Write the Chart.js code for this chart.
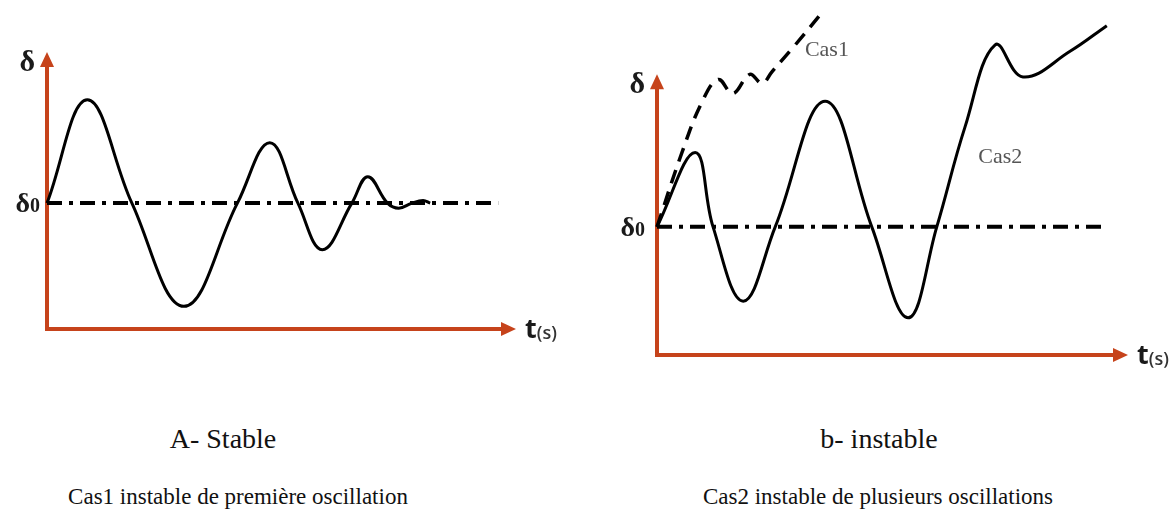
<!DOCTYPE html>
<html>
<head>
<meta charset="utf-8">
<script src="https://cdn.jsdelivr.net/npm/chart.js@4/dist/chart.umd.min.js"></script>
<style>
  body { margin: 0; background: #fff; width: 1176px; height: 510px; position: relative; overflow: hidden; }
  canvas { position: absolute; top: 0; }
  .cap { position: absolute; font-family: "Liberation Serif", "Times New Roman", "DejaVu Serif", serif; color: #111; line-height: 1; white-space: nowrap; transform: translateX(-50%); }
</style>
</head>
<body>
<canvas id="stable" width="588" height="380" style="left:0"></canvas>
<canvas id="unstable" width="588" height="380" style="left:588px"></canvas>

<div class="cap" style="left:223px; top:425px; font-size:28px">A- Stable</div>
<div class="cap" style="left:238px; top:485px; font-size:23px">Cas1 instable de première oscillation</div>
<div class="cap" style="left:879px; top:425px; font-size:28px">b- instable</div>
<div class="cap" style="left:878px; top:485px; font-size:23px">Cas2 instable de plusieurs oscillations</div>

<script>
// A- stable : damped oscillation around delta0 (crossings and extremes)
const stableT     = [0, 0.86, 1.81, 2.92, 4.06, 4.75, 5.35, 5.87, 6.50, 6.84, 7.26, 7.50, 7.78, 8.02, 8.17];
const stableDelta = [1.0, 1.82, 1.0, 0.18, 1.0, 1.48, 1.0, 0.63, 1.0, 1.21, 1.0, 0.96, 1.0, 1.02, 1.0];

// b- instable, Cas2 (several oscillations)
const cas2T     = [0, 0.81, 1.19, 1.83, 2.51, 3.57, 4.56, 5.33, 5.94, 6.54, 7.18, 7.77, 8.77, 9.55];
const cas2Delta = [1.0, 1.58, 1.0, 0.42, 1.0, 1.98, 1.0, 0.29, 1.0, 1.78, 2.42, 2.17, 2.37, 2.57];

// b- instable, Cas1 (first swing)
const cas1T     = [0, 0.53, 0.95, 1.30, 1.61, 1.97, 2.23, 2.44, 2.89, 3.50];
const cas1Delta = [1.0, 1.58, 1.97, 2.15, 2.04, 2.19, 2.12, 2.21, 2.40, 2.67];

// delta0 reference line
const delta0 = 1;
const refEndStable = 9.62;
const refEndUnstable = 9.55;

const ORANGE = '#c6431b';
const SERIF = '"Liberation Serif", "Times New Roman", "DejaVu Serif", serif';

const pts = (ts, ds) => ts.map((t, i) => ({ x: t, y: ds[i] }));

// axes with arrow heads + axis labels
const sketchAxes = {
  id: 'sketchAxes',
  beforeDatasetsDraw(chart, args, opts) {
    const { ctx, scales: { x, y } } = chart;
    const x0 = x.getPixelForValue(0), y0 = y.getPixelForValue(0);
    const xEnd = x.getPixelForValue(opts.xTop), yEnd = y.getPixelForValue(opts.yTop);
    ctx.save();
    ctx.strokeStyle = ORANGE;
    ctx.fillStyle = ORANGE;
    ctx.lineWidth = 4;
    ctx.beginPath();
    ctx.moveTo(x0, y0 + 2);
    ctx.lineTo(x0, yEnd + 12);
    ctx.moveTo(x0 - 2, y0);
    ctx.lineTo(xEnd - 12, y0);
    ctx.stroke();
    ctx.beginPath();
    ctx.moveTo(x0, yEnd);
    ctx.lineTo(x0 - 7, yEnd + 15);
    ctx.lineTo(x0 + 7, yEnd + 15);
    ctx.closePath();
    ctx.fill();
    ctx.beginPath();
    ctx.moveTo(xEnd, y0);
    ctx.lineTo(xEnd - 15, y0 - 7);
    ctx.lineTo(xEnd - 15, y0 + 7);
    ctx.closePath();
    ctx.fill();
    ctx.restore();
  },
  afterDatasetsDraw(chart, args, opts) {
    const { ctx, scales: { x, y } } = chart;
    const x0 = x.getPixelForValue(0), y0 = y.getPixelForValue(0);
    const xEnd = x.getPixelForValue(opts.xTop), yEnd = y.getPixelForValue(opts.yTop);
    const yRef = y.getPixelForValue(delta0);
    ctx.save();
    ctx.fillStyle = '#1a1a1a';
    ctx.textBaseline = 'alphabetic';
    // delta
    ctx.textAlign = 'right';
    ctx.font = 'bold 30px ' + SERIF;
    ctx.fillText('δ', x0 - 12, yEnd + 19);
    // delta0
    ctx.font = 'bold 20px ' + SERIF;
    const zw = ctx.measureText('0').width;
    ctx.fillText('0', x0 - opts.d0Gap, yRef + 9);
    ctx.font = 'bold 28px ' + SERIF;
    ctx.fillText('δ', x0 - opts.d0Gap - zw, yRef + 9);
    // t(s)
    ctx.textAlign = 'left';
    ctx.font = 'bold 27px "Open Sans"';
    ctx.fillText('t', xEnd + 9, y0 + 9);
    const tw = ctx.measureText('t').width;
    ctx.fillStyle = '#333';
    ctx.font = '600 18px "Open Sans"';
    ctx.fillText('(s)', xEnd + 9 + tw, y0 + 10);
    // curve names
    ctx.fillStyle = '#555';
    ctx.font = '22px ' + SERIF;
    (opts.names || []).forEach(n => {
      ctx.fillText(n.text, x.getPixelForValue(n.t), y.getPixelForValue(n.d));
    });
    ctx.restore();
  }
};

function makeChart(id, datasets, yMax, padding, axisOpts) {
  return new Chart(document.getElementById(id), {
    type: 'line',
    data: { datasets },
    options: {
      responsive: false,
      animation: false,
      layout: { padding },
      parsing: false,
      scales: {
        x: { type: 'linear', min: 0, max: 10, display: false },
        y: { type: 'linear', min: 0, max: yMax, display: false }
      },
      elements: { point: { radius: 0 } },
      plugins: { legend: { display: false }, tooltip: { enabled: false }, sketchAxes: axisOpts }
    },
    plugins: [sketchAxes]
  });
}

const refStyle = { borderColor: '#000', borderWidth: 4, borderDash: [15, 7, 4, 7], fill: false };
const curveStyle = { borderColor: '#000', borderWidth: 3, fill: false, tension: 0.4, clip: false };

makeChart('stable', [
  { label: 'δ0', data: pts([0, refEndStable], [delta0, delta0]), ...refStyle },
  { label: 'Stable', data: pts(stableT, stableDelta), ...curveStyle }
], 2.2, { left: 47, right: 72, top: 52, bottom: 51 }, { xTop: 10, yTop: 2.2, d0Gap: 7 });

makeChart('unstable', [
  { label: 'δ0', data: pts([0, refEndUnstable], [delta0, delta0]), ...refStyle },
  { label: 'Cas1', data: pts(cas1T, cas1Delta), ...curveStyle, borderWidth: 3.5, borderDash: [14, 9] },
  { label: 'Cas2', data: pts(cas2T, cas2Delta), ...curveStyle }
], 2.7, { left: 69, right: 48, top: 9, bottom: 25 }, {
  xTop: 10, yTop: 2.19, d0Gap: 12,
  names: [{ text: 'Cas1', t: 3.14, d: 2.33 }, { text: 'Cas2', t: 6.82, d: 1.5 }]
});
</script>
</body>
</html>
